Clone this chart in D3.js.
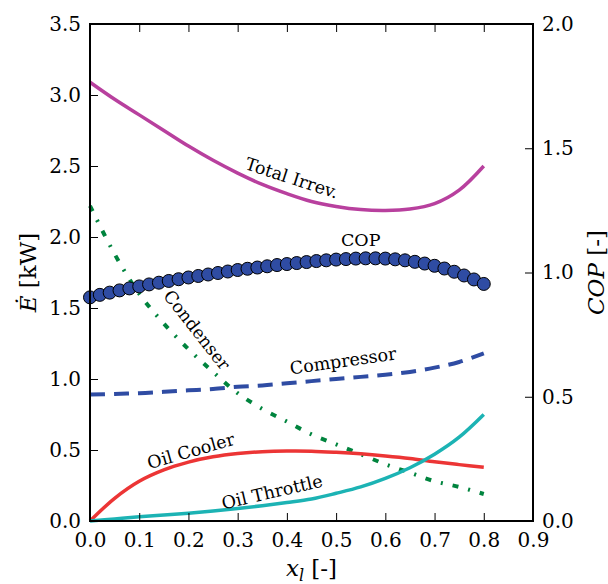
<!DOCTYPE html>
<html>
<head>
<meta charset="utf-8">
<script src="https://cdn.jsdelivr.net/npm/d3@7"></script>
<style>
  body { margin: 0; background: #fff; }
  svg text { font-family: 'DejaVu Serif', 'Liberation Serif', serif; fill: #000; }
</style>
</head>
<body>
<div id="chart"></div>
<script>
// quality grid for the exergy curves
var xq = [0, 0.05, 0.1, 0.15, 0.2, 0.25, 0.3, 0.35, 0.4, 0.45, 0.5, 0.55, 0.6, 0.65, 0.7, 0.75, 0.8]

var totalIrrev = [3.09, 2.97, 2.86, 2.75, 2.64, 2.54, 2.45, 2.37, 2.305, 2.25, 2.215, 2.193, 2.187, 2.197, 2.235, 2.33, 2.50]
var condenser = [2.22, 1.88, 1.60, 1.39, 1.21, 1.05, 0.90, 0.79, 0.70, 0.61, 0.54, 0.47, 0.40, 0.34, 0.28, 0.24, 0.19]
var compressor = [0.89, 0.895, 0.90, 0.91, 0.92, 0.93, 0.945, 0.955, 0.97, 0.985, 1.00, 1.015, 1.03, 1.05, 1.08, 1.12, 1.18]
var oilCooler = [0.00, 0.16, 0.28, 0.36, 0.415, 0.452, 0.475, 0.488, 0.493, 0.492, 0.484, 0.473, 0.458, 0.44, 0.417, 0.397, 0.378]
var oilThrottle = [0.00, 0.015, 0.03, 0.042, 0.055, 0.07, 0.088, 0.108, 0.13, 0.155, 0.195, 0.24, 0.30, 0.375, 0.47, 0.59, 0.75]

// COP markers, finer grid
var xCop = [0, 0.02, 0.04, 0.06, 0.08, 0.1, 0.12, 0.14, 0.16, 0.18, 0.2, 0.22, 0.24, 0.26, 0.28, 0.3,
            0.32, 0.34, 0.36, 0.38, 0.4, 0.42, 0.44, 0.46, 0.48, 0.5, 0.52, 0.54, 0.56, 0.58, 0.6,
            0.62, 0.64, 0.66, 0.68, 0.7, 0.72, 0.74, 0.76, 0.78, 0.8]
var cop = [0.900, 0.910, 0.919, 0.928, 0.936, 0.944, 0.952, 0.959, 0.966, 0.973, 0.980,
           0.986, 0.992, 0.998, 1.004, 1.010, 1.015, 1.020, 1.025, 1.030, 1.034,
           1.038, 1.042, 1.046, 1.049, 1.052, 1.054, 1.056, 1.057, 1.057, 1.056,
           1.053, 1.049, 1.043, 1.036, 1.027, 1.016, 1.003, 0.988, 0.972, 0.954]

var xTicks = [0, 0.1, 0.2, 0.3, 0.4, 0.5, 0.6, 0.7, 0.8, 0.9]
var eTicks = [0, 0.5, 1.0, 1.5, 2.0, 2.5, 3.0, 3.5]
var copTicks = [0, 0.5, 1.0, 1.5, 2.0]

var serif = "'DejaVu Serif', 'Liberation Serif', serif"

var width = 608, height = 584
var margin = {left: 90, right: 75, top: 24, bottom: 63}
var iw = width - margin.left - margin.right
var ih = height - margin.top - margin.bottom

var svg = d3.select("#chart").append("svg")
    .attr("width", width)
    .attr("height", height)
    .attr("font-family", serif)

var g = svg.append("g")
    .attr("transform", "translate(" + margin.left + "," + margin.top + ")")

var x = d3.scaleLinear().domain([0, 0.9]).range([0, iw])
var y = d3.scaleLinear().domain([0, 3.5]).range([ih, 0])
var y2 = d3.scaleLinear().domain([0, 2.0]).range([ih, 0])

var fmt = d3.format(".1f")

// series
var series = [
    {name: "Total Irrev.", values: totalIrrev, color: "#b8409e", width: 3.5, dash: null},
    {name: "Condenser", values: condenser, color: "#00843e", width: 4, dash: "6,10,2,10"},
    {name: "Compressor", values: compressor, color: "#2f4ca3", width: 4, dash: "15,9"},
    {name: "Oil Cooler", values: oilCooler, color: "#ec3535", width: 3.5, dash: null},
    {name: "Oil Throttle", values: oilThrottle, color: "#1cb3b4", width: 3.5, dash: null}
]

var line = d3.line()
    .x(d => x(d[0]))
    .y(d => y(d[1]))
    .curve(d3.curveCatmullRom.alpha(0.5))

var plot = g.append("g")
plot.selectAll("path.series")
    .data(series)
    .enter().append("path")
    .attr("class", "series")
    .attr("d", s => line(xq.map((v, i) => [v, s.values[i]])))
    .attr("fill", "none")
    .attr("stroke", s => s.color)
    .attr("stroke-width", s => s.width)
    .attr("stroke-dasharray", s => s.dash)

// COP markers on the right axis
plot.selectAll("circle.cop")
    .data(xCop.map((v, i) => [v, cop[i]]))
    .enter().append("circle")
    .attr("class", "cop")
    .attr("cx", d => x(d[0]))
    .attr("cy", d => y2(d[1]))
    .attr("r", 6.5)
    .attr("fill", "#2f4ca3")
    .attr("stroke", "#000")
    .attr("stroke-width", 1)

// inline curve labels (data coords)
var labels = [
    {text: "Total Irrev.", x: 0.41, y: 2.415, rot: 18},
    {text: "COP", x: 0.55, y: 1.98, rot: 0},
    {text: "Condenser", x: 0.217, y: 1.345, rot: 52},
    {text: "Compressor", x: 0.514, y: 1.127, rot: -8},
    {text: "Oil Cooler", x: 0.205, y: 0.493, rot: -16},
    {text: "Oil Throttle", x: 0.37, y: 0.204, rot: -13}
]

plot.selectAll("text.lbl")
    .data(labels)
    .enter().append("text")
    .attr("class", "lbl")
    .attr("transform", d => "translate(" + x(d.x) + "," + y(d.y) + ") rotate(" + d.rot + ")")
    .attr("text-anchor", "middle")
    .attr("dominant-baseline", "central")
    .style("font-size", "17.5px")
    .text(d => d.text)

// axes, ticks pointing inward
function styleAxis(sel) {
    sel.attr("font-family", serif).attr("font-size", 20)
    sel.select(".domain").remove()
    sel.selectAll(".tick line").attr("stroke", "#000").attr("stroke-width", 1)
    sel.selectAll(".tick text").style("font-family", serif).style("font-size", "20px")
}

g.append("g")
    .attr("transform", "translate(0," + ih + ")")
    .call(d3.axisBottom(x).tickValues(xTicks).tickFormat(fmt).tickSizeInner(-8).tickPadding(12))
    .call(styleAxis)

g.append("g")
    .call(d3.axisTop(x).tickValues(xTicks).tickSizeInner(-8).tickFormat(""))
    .call(styleAxis)

g.append("g")
    .call(d3.axisLeft(y).tickValues(eTicks).tickFormat(fmt).tickSizeInner(-8).tickPadding(9))
    .call(styleAxis)

g.append("g")
    .attr("transform", "translate(" + iw + ",0)")
    .call(d3.axisRight(y2).tickValues(copTicks).tickFormat(fmt).tickSizeInner(-8).tickPadding(9))
    .call(styleAxis)

g.append("rect")
    .attr("width", iw)
    .attr("height", ih)
    .attr("fill", "none")
    .attr("stroke", "#000")
    .attr("stroke-width", 2)

// axis titles
var xl = svg.append("text")
    .attr("x", margin.left + iw / 2)
    .attr("y", 576)
    .attr("text-anchor", "middle")
    .style("font-family", serif)
    .style("font-size", "23px")
xl.append("tspan").style("font-style", "italic").text("x")
xl.append("tspan").style("font-style", "italic").style("font-size", "16px").attr("dy", 5).text("l")
xl.append("tspan").attr("dy", -5).text(" [-]")

var yl = svg.append("text")
    .attr("transform", "translate(36," + (margin.top + ih / 2) + ") rotate(-90)")
    .attr("text-anchor", "middle")
    .style("font-family", serif)
    .style("font-size", "23px")
yl.append("tspan").style("font-style", "italic").text("Ė")
yl.append("tspan").text(" [kW]")

var yr = svg.append("text")
    .attr("transform", "translate(604," + (margin.top + ih / 2) + ") rotate(-90)")
    .attr("text-anchor", "middle")
    .style("font-family", serif)
    .style("font-size", "23px")
yr.append("tspan").style("font-style", "italic").text("COP")
yr.append("tspan").text(" [-]")
</script>
</body>
</html>
